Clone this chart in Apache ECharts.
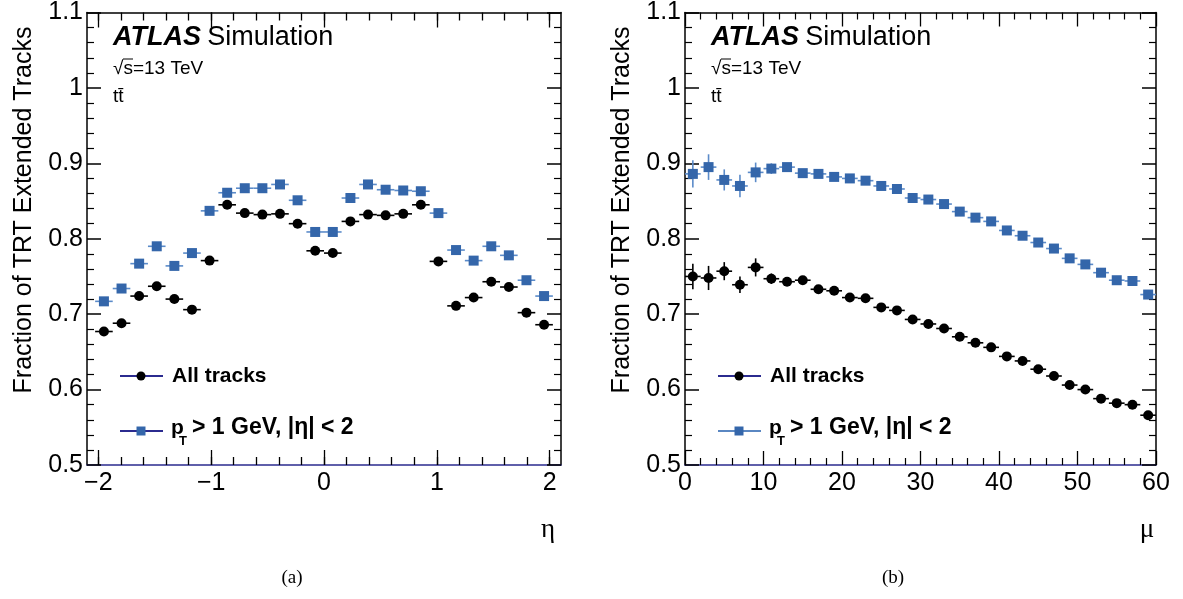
<!DOCTYPE html>
<html>
<head>
<meta charset="utf-8">
<script src="https://cdn.jsdelivr.net/npm/echarts@6/dist/echarts.min.js"></script>
<style>
  html, body { margin: 0; padding: 0; background: #fff; }
  #chart { width: 1183px; height: 599px; }
</style>
</head>
<body>
<div id="chart"></div>
<script>
// (a) fraction vs eta
var etaCenters = [-1.95, -1.794, -1.638, -1.482, -1.326, -1.17, -1.014, -0.858, -0.702, -0.546, -0.39, -0.234, -0.078,
                  0.078, 0.234, 0.39, 0.546, 0.702, 0.858, 1.014, 1.17, 1.326, 1.482, 1.638, 1.794, 1.95];
var etaHalfWidth = 0.078;
var etaAll = [0.677, 0.688, 0.724, 0.737, 0.720, 0.706, 0.771, 0.845, 0.834, 0.832, 0.833, 0.820, 0.784,
              0.781, 0.823, 0.832, 0.831, 0.833, 0.845, 0.770, 0.711, 0.722, 0.743, 0.736, 0.702, 0.686];
var etaPt = [0.717, 0.734, 0.767, 0.790, 0.764, 0.781, 0.837, 0.861, 0.867, 0.867, 0.872, 0.851, 0.809,
             0.809, 0.854, 0.872, 0.865, 0.864, 0.863, 0.834, 0.785, 0.771, 0.790, 0.778, 0.745, 0.724];
var etaAllErr = [0.003, 0.003, 0.003, 0.003, 0.003, 0.003, 0.003, 0.002, 0.002, 0.002, 0.002, 0.002, 0.002,
                 0.002, 0.002, 0.002, 0.002, 0.002, 0.002, 0.003, 0.003, 0.003, 0.003, 0.003, 0.003, 0.003];
var etaPtErr = [0.003, 0.003, 0.003, 0.003, 0.003, 0.003, 0.003, 0.002, 0.002, 0.002, 0.002, 0.002, 0.002,
                0.002, 0.002, 0.002, 0.002, 0.002, 0.002, 0.003, 0.003, 0.003, 0.003, 0.003, 0.003, 0.003];
var etaMajorTicks = [-2, -1, 0, 1, 2];
var etaMinorTicks = [-2, -1.8, -1.6, -1.4, -1.2, -1, -0.8, -0.6, -0.4, -0.2, 0, 0.2, 0.4, 0.6, 0.8, 1, 1.2, 1.4, 1.6, 1.8, 2];

// (b) fraction vs mu
var muCenters = [1, 3, 5, 7, 9, 11, 13, 15, 17, 19, 21, 23, 25, 27, 29, 31, 33, 35, 37, 39, 41, 43, 45, 47, 49, 51, 53, 55, 57, 59];
var muHalfWidth = 1;
var muAll = [0.750, 0.748, 0.757, 0.739, 0.762, 0.747, 0.743, 0.745, 0.733, 0.731, 0.722, 0.721, 0.709, 0.705, 0.693,
             0.687, 0.681, 0.670, 0.662, 0.656, 0.644, 0.638, 0.627, 0.618, 0.606, 0.600, 0.588, 0.582, 0.580, 0.566];
var muPt = [0.886, 0.895, 0.878, 0.870, 0.888, 0.893, 0.895, 0.887, 0.886, 0.882, 0.880, 0.877, 0.870, 0.866, 0.854,
            0.852, 0.846, 0.836, 0.828, 0.823, 0.811, 0.804, 0.795, 0.787, 0.774, 0.766, 0.755, 0.745, 0.744, 0.726];
var muAllErr = [0.017, 0.016, 0.012, 0.011, 0.012, 0.007, 0.004, 0.004, 0.003, 0.003, 0.003, 0.003, 0.002, 0.002, 0.002,
                0.002, 0.002, 0.002, 0.002, 0.002, 0.002, 0.002, 0.002, 0.002, 0.002, 0.002, 0.002, 0.002, 0.002, 0.002];
var muPtErr = [0.018, 0.017, 0.014, 0.015, 0.013, 0.007, 0.004, 0.003, 0.003, 0.003, 0.003, 0.002, 0.002, 0.002, 0.002,
               0.002, 0.002, 0.002, 0.002, 0.002, 0.002, 0.002, 0.002, 0.002, 0.002, 0.002, 0.002, 0.002, 0.002, 0.002];

var yMin = 0.5, yMax = 1.1, yStep = 0.1;

var BLACK = '#000000';
var BLUE = '#3466aa';
var BLUE_BAR = '#5b8bc9';
var NAVY = '#2b2b8f';
var SANS = '"Liberation Sans", Arial, sans-serif';
var SERIF = '"Liberation Serif", "Times New Roman", serif';

function pack(xs, ys, hw, errs) {
  return xs.map(function (x, i) { return [x, ys[i], hw, errs[i]]; });
}

function errorBars(color) {
  return function (params, api) {
    var x = api.value(0), y = api.value(1), ex = api.value(2), ey = api.value(3);
    var l = api.coord([x - ex, y]), r = api.coord([x + ex, y]);
    var b = api.coord([x, y - ey]), t = api.coord([x, y + ey]);
    return {
      type: 'group',
      children: [
        { type: 'line', shape: { x1: l[0], y1: l[1], x2: r[0], y2: r[1] }, style: { stroke: color, lineWidth: 1.6 } },
        { type: 'line', shape: { x1: b[0], y1: b[1], x2: t[0], y2: t[1] }, style: { stroke: color, lineWidth: 1.6 } }
      ]
    };
  };
}

function yAxisDef(grid, pos, labels) {
  return {
    type: 'value', gridIndex: grid, position: pos,
    min: yMin, max: yMax, interval: yStep,
    axisLine: { show: true, onZero: false, lineStyle: { color: BLACK, width: 1.5 } },
    axisTick: { show: true, inside: true, length: 14, lineStyle: { color: BLACK, width: 1.5 } },
    minorTick: { show: true, splitNumber: 5, length: 7, lineStyle: { color: BLACK, width: 1.2 } },
    axisLabel: { show: labels, margin: 4, fontFamily: SANS, fontSize: 25, color: BLACK },
    splitLine: { show: false }
  };
}

function etaAxis(pos, ticks, len, labels, line) {
  return {
    type: 'value', gridIndex: 0, position: pos, min: -2.1, max: 2.1,
    axisLine: { show: line, onZero: false, lineStyle: { color: pos === 'bottom' ? NAVY : BLACK, width: 1.5 } },
    axisTick: { show: true, inside: true, length: len, customValues: ticks, lineStyle: { color: BLACK, width: 1.3 } },
    axisLabel: {
      show: labels, customValues: etaMajorTicks, margin: 6, fontFamily: SANS, fontSize: 25, color: BLACK,
      formatter: function (v) { return String(v).replace('-', '\u2212'); }
    },
    splitLine: { show: false }
  };
}

function muAxis(pos, labels) {
  return {
    type: 'value', gridIndex: 1, position: pos, min: 0, max: 60, interval: 10,
    axisLine: { show: true, onZero: false, lineStyle: { color: pos === 'bottom' ? NAVY : BLACK, width: 1.5 } },
    axisTick: { show: true, inside: true, length: 14, lineStyle: { color: BLACK, width: 1.3 } },
    minorTick: { show: true, splitNumber: 5, length: 7, lineStyle: { color: BLACK, width: 1.2 } },
    axisLabel: { show: labels, margin: 6, fontFamily: SANS, fontSize: 25, color: BLACK },
    splitLine: { show: false }
  };
}

function txt(x, y, text, font, opts) {
  opts = opts || {};
  return {
    type: 'text', x: x, y: y, rotation: opts.rotation || 0,
    style: {
      text: text, font: font, fill: BLACK,
      textAlign: opts.align || 'left', textVerticalAlign: opts.valign || 'middle'
    }
  };
}

function legendRow(x0, y, marker, lineColor, markerColor) {
  var items = [
    { type: 'line', shape: { x1: x0, y1: y, x2: x0 + 43, y2: y }, style: { stroke: lineColor, lineWidth: 2 } }
  ];
  if (marker === 'circle') {
    items.push({ type: 'circle', shape: { cx: x0 + 21, cy: y, r: 4.5 }, style: { fill: markerColor } });
  } else {
    items.push({ type: 'rect', shape: { x: x0 + 16.5, y: y - 4.5, width: 9, height: 9 }, style: { fill: markerColor } });
  }
  return items;
}

function panelText(x0, gx, legendLine2) {
  var out = [];
  out.push({
    type: 'text', x: x0, y: 38,
    style: {
      text: '{a|ATLAS} {b|Simulation}', textVerticalAlign: 'middle',
      rich: {
        a: { font: 'italic bold 27px ' + SANS, fill: BLACK },
        b: { font: '27px ' + SANS, fill: BLACK, padding: [0, 0, 0, 3] }
      }
    }
  });
  out.push(txt(x0, 69, '\u221As=13 TeV', '19px ' + SANS));
  out.push({ type: 'line', shape: { x1: x0 + 10, y1: 59, x2: x0 + 20, y2: 59 }, style: { stroke: BLACK, lineWidth: 1 } });
  out.push(txt(x0, 97, 'tt\u0304', '19px ' + SANS));
  out = out.concat(legendRow(x0 + 7, 376, 'circle', NAVY, BLACK));
  out = out.concat(legendRow(x0 + 7, 431, 'square', legendLine2, BLUE));
  out.push(txt(x0 + 59, 376, 'All tracks', 'bold 21px ' + SANS));
  out.push(txt(x0 + 58, 428, 'p', 'bold 21px ' + SANS));
  out.push(txt(x0 + 66, 441, 'T', 'bold 13px ' + SANS));
  out.push(txt(x0 + 79, 428, '> 1 GeV, |\u03B7| < 2', 'bold 23px ' + SANS));
  out.push(txt(gx - 63, 210, 'Fraction of TRT Extended Tracks', '25px ' + SANS, { rotation: Math.PI / 2, align: 'center' }));
  return out;
}

var chart = echarts.init(document.getElementById('chart'), null, { renderer: 'canvas' });

var graphics = []
  .concat(panelText(113, 87, NAVY))
  .concat(panelText(711, 685, '#5a87c2'))
  .concat([
    txt(548, 530, '\u03B7', '27px ' + SERIF, { align: 'center' }),
    txt(1147, 530, '\u03BC', '27px ' + SERIF, { align: 'center' }),
    txt(292, 578, '(a)', '19px ' + SERIF, { align: 'center' }),
    txt(893, 578, '(b)', '19px ' + SERIF, { align: 'center' })
  ]);

chart.setOption({
  animation: false,
  backgroundColor: '#ffffff',
  grid: [
    { left: 87, top: 12, width: 474, height: 453 },
    { left: 685, top: 12, width: 471, height: 453 }
  ],
  xAxis: [
    etaAxis('bottom', etaMajorTicks, 15, true, true),
    etaAxis('bottom', etaMinorTicks, 8, false, false),
    etaAxis('top', etaMajorTicks, 15, false, true),
    etaAxis('top', etaMinorTicks, 8, false, false),
    muAxis('bottom', true),
    muAxis('top', false)
  ],
  yAxis: [
    yAxisDef(0, 'left', true),
    yAxisDef(0, 'right', false),
    yAxisDef(1, 'left', true),
    yAxisDef(1, 'right', false)
  ],
  graphic: graphics,
  series: [
    { type: 'custom', name: 'All tracks err', xAxisIndex: 0, yAxisIndex: 0, renderItem: errorBars(BLACK),
      encode: { x: 0, y: 1 }, data: pack(etaCenters, etaAll, etaHalfWidth, etaAllErr), z: 2 },
    { type: 'custom', name: 'pT err', xAxisIndex: 0, yAxisIndex: 0, renderItem: errorBars(BLUE_BAR),
      encode: { x: 0, y: 1 }, data: pack(etaCenters, etaPt, etaHalfWidth, etaPtErr), z: 2 },
    { type: 'scatter', name: 'All tracks', xAxisIndex: 0, yAxisIndex: 0, symbol: 'circle', symbolSize: 10,
      itemStyle: { color: BLACK, opacity: 1 }, data: etaCenters.map(function (x, i) { return [x, etaAll[i]]; }), z: 3 },
    { type: 'scatter', name: 'pT > 1 GeV', xAxisIndex: 0, yAxisIndex: 0, symbol: 'rect', symbolSize: 10,
      itemStyle: { color: BLUE, opacity: 1 }, data: etaCenters.map(function (x, i) { return [x, etaPt[i]]; }), z: 3 },

    { type: 'custom', name: 'All tracks err mu', xAxisIndex: 4, yAxisIndex: 2, renderItem: errorBars(BLACK),
      encode: { x: 0, y: 1 }, data: pack(muCenters, muAll, muHalfWidth, muAllErr), z: 2 },
    { type: 'custom', name: 'pT err mu', xAxisIndex: 4, yAxisIndex: 2, renderItem: errorBars(BLUE_BAR),
      encode: { x: 0, y: 1 }, data: pack(muCenters, muPt, muHalfWidth, muPtErr), z: 2 },
    { type: 'scatter', name: 'All tracks mu', xAxisIndex: 4, yAxisIndex: 2, symbol: 'circle', symbolSize: 10,
      itemStyle: { color: BLACK, opacity: 1 }, data: muCenters.map(function (x, i) { return [x, muAll[i]]; }), z: 3 },
    { type: 'scatter', name: 'pT > 1 GeV mu', xAxisIndex: 4, yAxisIndex: 2, symbol: 'rect', symbolSize: 10,
      itemStyle: { color: BLUE, opacity: 1 }, data: muCenters.map(function (x, i) { return [x, muPt[i]]; }), z: 3 }
  ]
});
</script>
</body>
</html>
